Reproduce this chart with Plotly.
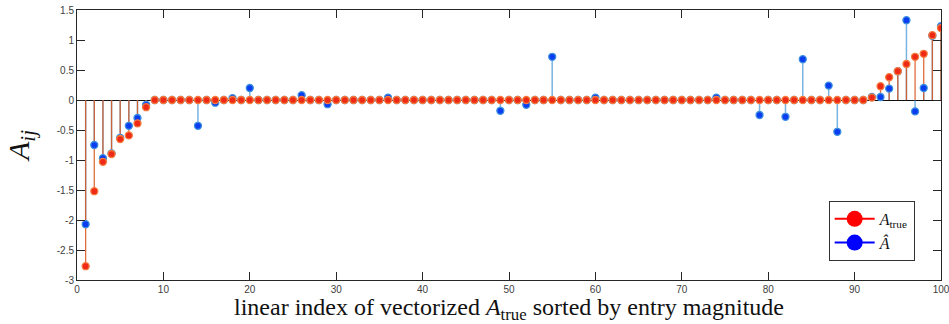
import plotly.graph_objects as go

idx = list(range(1, 101))

a_true = [-2.77, -1.52, -1.03, -0.90, -0.65, -0.59, -0.39, -0.12, 0, 0,
          0, 0, 0, 0, 0, 0, 0, 0, 0, 0,
          0, 0, 0, 0, 0, 0, 0, 0, 0, 0,
          0, 0, 0, 0, 0, 0, 0, 0, 0, 0,
          0, 0, 0, 0, 0, 0, 0, 0, 0, 0,
          0, 0, 0, 0, 0, 0, 0, 0, 0, 0,
          0, 0, 0, 0, 0, 0, 0, 0, 0, 0,
          0, 0, 0, 0, 0, 0, 0, 0, 0, 0,
          0, 0, 0, 0, 0, 0, 0, 0, 0, 0,
          0, 0.04, 0.23, 0.38, 0.48, 0.60, 0.72, 0.77, 1.08, 1.20]

a_hat = [-2.07, -0.75, -0.97, -0.89, -0.63, -0.43, -0.30, -0.08, 0, 0,
         0, 0, 0, -0.43, 0, -0.045, 0, 0.03, 0, 0.20,
         0, 0, 0, 0, 0, 0.08, 0, 0, -0.07, 0,
         0, 0, 0, 0, 0, 0.04, 0, 0, 0, 0,
         0, 0, 0, 0, 0, 0, 0, 0, -0.18, 0,
         0, -0.08, 0, 0, 0.72, 0, 0, 0, 0, 0.04,
         0, 0, 0, 0, 0, 0, 0, 0, 0, 0,
         0, 0, 0, 0.04, 0, 0, 0, 0, -0.25, 0,
         0, -0.28, 0, 0.68, 0, 0, 0.24, -0.53, 0, 0,
         0, 0.05, 0.05, 0.19, 0.48, 1.33, -0.19, 0.20, 1.07, 1.23]

x_ticks = [0, 10, 20, 30, 40, 50, 60, 70, 80, 90, 100]
y_ticks = [-3, -2.5, -2, -1.5, -1, -0.5, 0, 0.5, 1, 1.5]
y_tick_labels = ["-3", "-2.5", "-2", "-1.5", "-1", "-0.5", "0", "0.5", "1", "1.5"]


def stems(xs, ys):
    sx, sy = [], []
    for x, y in zip(xs, ys):
        sx += [x, x, None]
        sy += [0, y, None]
    return sx, sy


fig = go.Figure()

bx, by = stems(idx, a_hat)
rx, ry = stems(idx, a_true)

fig.add_trace(go.Scatter(x=bx, y=by, mode="lines",
                         line=dict(color="rgba(30,130,205,0.6)", width=1.5),
                         showlegend=False, hoverinfo="skip"))
fig.add_trace(go.Scatter(x=rx, y=ry, mode="lines",
                         line=dict(color="rgba(217,83,25,0.85)", width=1.3),
                         showlegend=False, hoverinfo="skip"))
fig.add_trace(go.Scatter(x=idx, y=a_hat, mode="markers",
                         marker=dict(color="#0a3cf0", size=7,
                                     line=dict(color="#3c8fe0", width=1.3)),
                         showlegend=False))
fig.add_trace(go.Scatter(x=idx, y=a_true, mode="markers",
                         marker=dict(color="#ee2a16", size=7,
                                     line=dict(color="#f57a3c", width=1.3)),
                         showlegend=False))

# legend entries
fig.add_trace(go.Scatter(x=[None], y=[None], mode="lines+markers",
                         name="<i>A</i><sub>true</sub>",
                         line=dict(color="red", width=2),
                         marker=dict(color="red", size=16)))
fig.add_trace(go.Scatter(x=[None], y=[None], mode="lines+markers",
                         name="<i>Â</i>",
                         line=dict(color="blue", width=2),
                         marker=dict(color="blue", size=16)))

axis_common = dict(showline=True, linecolor="#262626", linewidth=1,
                   mirror="ticks", ticks="inside", ticklen=8,
                   tickcolor="#262626", tickwidth=1, showgrid=False,
                   automargin=False, layer="above traces",
                   ticklabeloverflow="allow",
                   tickfont=dict(family="Liberation Sans, Arial", size=10,
                                 color="#404040"))

fig.update_layout(
    width=949, height=324,
    margin=dict(l=77, r=8, t=10, b=44),
    plot_bgcolor="white", paper_bgcolor="white",
    xaxis=dict(range=[0, 100], tickvals=x_ticks, zeroline=False,
               title=dict(text="linear index of vectorized <i>A</i><sub>true</sub> sorted by entry magnitude",
                          font=dict(family="Liberation Serif, DejaVu Serif", size=24, color="#111"),
                          standoff=6),
               **axis_common),
    yaxis=dict(range=[-3, 1.5], tickvals=y_ticks, ticktext=y_tick_labels,
               zeroline=True, zerolinecolor="#111", zerolinewidth=1.3,
               title=dict(text="<i>A<sub>ij</sub></i>",
                          font=dict(family="Liberation Serif, DejaVu Serif", size=30, color="#111"),
                          standoff=18),
               **axis_common),
    legend=dict(x=0.870, y=0.293, xanchor="left", yanchor="top",
                bordercolor="#333", borderwidth=1, bgcolor="white",
                font=dict(family="Liberation Serif, DejaVu Serif", size=16, color="#111"),
                itemwidth=40, tracegroupgap=4),
    showlegend=True,
)

fig.write_html("out.html")
